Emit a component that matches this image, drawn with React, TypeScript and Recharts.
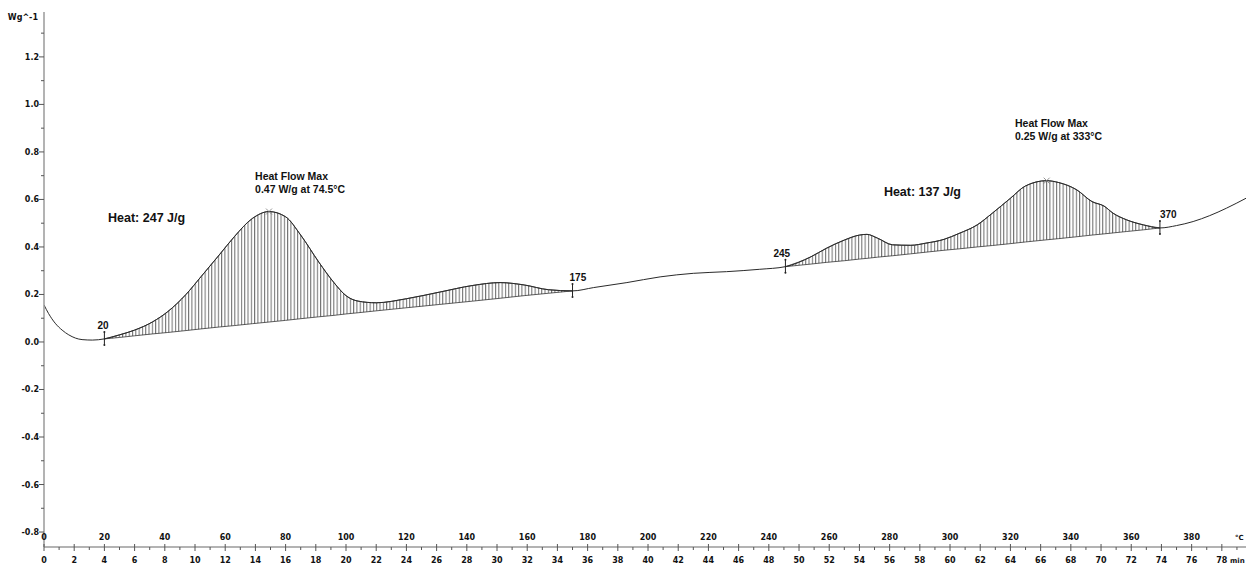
import { Area, ComposedChart, Line, ReferenceDot, XAxis, YAxis } from 'recharts'

// heat flow curve, x in °C (heating at 5 °C/min), y in W/g
const curveTemps = [0, 1.5, 3.7, 6, 8.2, 12.6, 16, 20, 25, 30, 36, 41, 47, 52, 58, 63, 69, 74.5, 80, 85, 91, 96, 100, 104, 110, 120, 131, 142, 151, 159, 167, 175, 182, 193, 204, 215, 226, 237, 245.5, 254, 259, 265, 270, 272.5, 276, 281, 287, 292, 298, 303, 309, 314, 320, 325, 332, 336, 342, 347, 351, 354, 358.5, 364, 369.5, 375, 380.5, 386, 391.5, 398]
const curveValues = [0.156, 0.12, 0.079, 0.05, 0.03, 0.01, 0.008, 0.013, 0.03, 0.05, 0.085, 0.128, 0.2, 0.275, 0.366, 0.443, 0.52, 0.549, 0.527, 0.45, 0.336, 0.25, 0.195, 0.172, 0.165, 0.182, 0.21, 0.238, 0.25, 0.24, 0.22, 0.215, 0.229, 0.25, 0.274, 0.289, 0.296, 0.306, 0.317, 0.359, 0.394, 0.429, 0.45, 0.453, 0.437, 0.409, 0.407, 0.416, 0.432, 0.457, 0.493, 0.542, 0.605, 0.657, 0.679, 0.671, 0.64, 0.591, 0.572, 0.542, 0.514, 0.493, 0.48, 0.49, 0.507, 0.532, 0.563, 0.605]

// integration baselines under the two peaks
const peak1Temps = [20, 25, 30, 36, 41, 47, 52, 58, 63, 69, 74.5, 80, 85, 91, 96, 100, 104, 110, 120, 131, 142, 151, 159, 167, 175]
const peak1Base = [0.013, 0.019, 0.026, 0.034, 0.04, 0.048, 0.055, 0.063, 0.069, 0.077, 0.084, 0.091, 0.098, 0.106, 0.112, 0.118, 0.123, 0.131, 0.144, 0.158, 0.172, 0.184, 0.195, 0.205, 0.215]
const peak2Temps = [245.5, 254, 259, 265, 270, 272.5, 276, 281, 287, 292, 298, 303, 309, 314, 320, 325, 332, 336, 342, 347, 351, 354, 358.5, 364, 369.5]
const peak2Base = [0.317, 0.328, 0.335, 0.342, 0.349, 0.352, 0.357, 0.363, 0.371, 0.378, 0.386, 0.392, 0.4, 0.406, 0.414, 0.421, 0.43, 0.435, 0.443, 0.45, 0.455, 0.459, 0.465, 0.472, 0.48]

const limitTemps = [20, 175, 245.5, 369.5]
const limitLabels = ['20', '175', '245', '370']
const limitLabelDx = [-7, -3, -12, 0]

const peakTemps = [74.5, 332]
const peakValues = [0.549, 0.679]

const xTicks = [...Array.from({ length: 80 }, (_, i) => i * 5), 398]
const yTicks = [-0.8, -0.7, -0.6, -0.5, -0.4, -0.3, -0.2, -0.1, 0, 0.1, 0.2, 0.3, 0.4, 0.5, 0.6, 0.7, 0.8, 0.9, 1.0, 1.1, 1.2, 1.3, 1.37]

const X_END = 398
const Y_UNIT = 1.37

const curveData = curveTemps.map((t, i) => ({ temp: t, value: curveValues[i] }))
const toRange = (temps: number[], base: number[]) =>
  temps.map((t, i) => ({ temp: t, range: [base[i], curveValues[curveTemps.indexOf(t)]] }))
const peak1Data = toRange(peak1Temps, peak1Base)
const peak2Data = toRange(peak2Temps, peak2Base)

const tickFont = { fontFamily: '"DejaVu Sans", sans-serif', fontSize: 8, fontWeight: 700, fill: '#111' }
const noteFont = { fontFamily: '"Liberation Sans", Arial, sans-serif', fontWeight: 700, fill: '#111' }

function XTick({ x, y, payload }: any) {
  const t = payload.value
  if (t === X_END) {
    // unit labels squeezed against the right edge
    return (
      <g>
        <text x={x - 16} y={y + 16} {...tickFont} fontSize={7}>min</text>
        <text x={x - 11} y={y - 7} {...tickFont} fontSize={7}>°C</text>
      </g>
    )
  }
  const major = t % 10 === 0
  return (
    <g>
      {major ? (
        <line x1={x} x2={x} y1={y - 3} y2={y + 4} stroke="#555" strokeWidth={1} />
      ) : (
        <line x1={x} x2={x} y1={y} y2={y + 3} stroke="#555" strokeWidth={1} />
      )}
      {major && (
        <text x={x} y={y + 16} textAnchor="middle" {...tickFont}>{t / 5}</text>
      )}
      {t % 20 === 0 && (
        <text x={x} y={y - 7} textAnchor="middle" {...tickFont}>{t}</text>
      )}
    </g>
  )
}

function YTick({ x, y, payload }: any) {
  const v = payload.value
  if (v === Y_UNIT) {
    return <text x={x - 6} y={y + 3} textAnchor="end" {...tickFont}>Wg^-1</text>
  }
  const major = Math.round(v * 10) % 2 === 0
  return (
    <g>
      <line x1={x - (major ? 5 : 3)} x2={x} y1={y} y2={y} stroke="#555" strokeWidth={1} />
      {major && (
        <text x={x - 5} y={y + 3} textAnchor="end" {...tickFont}>{v.toFixed(1)}</text>
      )}
    </g>
  )
}

function LimitMark({ cx, cy, label, dx }: any) {
  return (
    <g>
      <line x1={cx} x2={cx} y1={cy - 7} y2={cy + 6} stroke="#222" strokeWidth={1} />
      <circle cx={cx} cy={cy - 7} r={1} fill="#222" />
      <circle cx={cx} cy={cy + 6} r={1} fill="#222" />
      <text x={cx + dx} y={cy - 10} fontSize={10} {...noteFont}>{label}</text>
    </g>
  )
}

function PeakCross({ cx, cy }: any) {
  return (
    <g stroke="#777" strokeWidth={0.8}>
      <line x1={cx - 3} x2={cx + 3} y1={cy - 3} y2={cy + 3} />
      <line x1={cx - 3} x2={cx + 3} y1={cy + 3} y2={cy - 3} />
    </g>
  )
}

function Note({ cx, cy, lines, size }: any) {
  return (
    <text x={cx} y={cy} fontSize={size} {...noteFont}>
      {lines.map((l: string, i: number) => (
        <tspan key={l} x={cx} dy={i === 0 ? 0 : size + 2.5}>{l}</tspan>
      ))}
    </text>
  )
}

export default function App() {
  return (
    <div style={{ position: 'absolute', left: 0, top: 0, width: 1246, height: 565, overflow: 'hidden', background: '#fff' }}>
      <ComposedChart width={1246} height={565} data={curveData} margin={{ top: 12, right: 0, bottom: 0, left: 0 }}>
        <defs>
          <pattern id="hatch" width={3.3} height={10} patternUnits="userSpaceOnUse">
            <line x1={0.6} x2={0.6} y1={0} y2={10} stroke="#333" strokeWidth={0.8} />
          </pattern>
        </defs>
        <XAxis
          dataKey="temp"
          type="number"
          domain={[0, X_END]}
          ticks={xTicks}
          interval={0}
          height={18}
          tickLine={false}
          tickSize={0}
          tickMargin={0}
          axisLine={{ stroke: '#9a9a9a', strokeWidth: 1.5 }}
          tick={<XTick />}
          allowDataOverflow
        />
        <YAxis
          type="number"
          domain={[-0.863, 1.389]}
          ticks={yTicks}
          interval={0}
          width={44}
          tickLine={false}
          tickSize={0}
          tickMargin={0}
          axisLine={{ stroke: '#9a9a9a', strokeWidth: 1.5 }}
          tick={<YTick />}
          allowDataOverflow
        />
        <Area
          data={peak1Data}
          dataKey="range"
          type="monotone"
          fill="url(#hatch)"
          fillOpacity={1}
          stroke="#333"
          strokeWidth={0.8}
          isAnimationActive={false}
        />
        <Area
          data={peak2Data}
          dataKey="range"
          type="monotone"
          fill="url(#hatch)"
          fillOpacity={1}
          stroke="#333"
          strokeWidth={0.8}
          isAnimationActive={false}
        />
        <Line
          dataKey="value"
          type="monotone"
          stroke="#2a2a2a"
          strokeWidth={1}
          dot={false}
          activeDot={false}
          isAnimationActive={false}
        />
        {limitTemps.map((t, i) => (
          <ReferenceDot
            key={t}
            x={t}
            y={curveValues[curveTemps.indexOf(t)]}
            r={0}
            shape={(p: any) => <LimitMark {...p} label={limitLabels[i]} dx={limitLabelDx[i]} />}
          />
        ))}
        {peakTemps.map((t, i) => (
          <ReferenceDot key={t} x={t} y={peakValues[i]} r={0} shape={(p: any) => <PeakCross {...p} />} />
        ))}
        <ReferenceDot x={69.9} y={0.682} r={0} shape={(p: any) => <Note {...p} size={10.5} lines={['Heat Flow Max', '0.47 W/g at 74.5°C']} />} />
        <ReferenceDot x={21.2} y={0.503} r={0} shape={(p: any) => <Note {...p} size={12.5} lines={['Heat: 247 J/g']} />} />
        <ReferenceDot x={321.5} y={0.907} r={0} shape={(p: any) => <Note {...p} size={10.5} lines={['Heat Flow Max', '0.25 W/g at 333°C']} />} />
        <ReferenceDot x={278.1} y={0.615} r={0} shape={(p: any) => <Note {...p} size={12.5} lines={['Heat: 137 J/g']} />} />
      </ComposedChart>
    </div>
  )
}
